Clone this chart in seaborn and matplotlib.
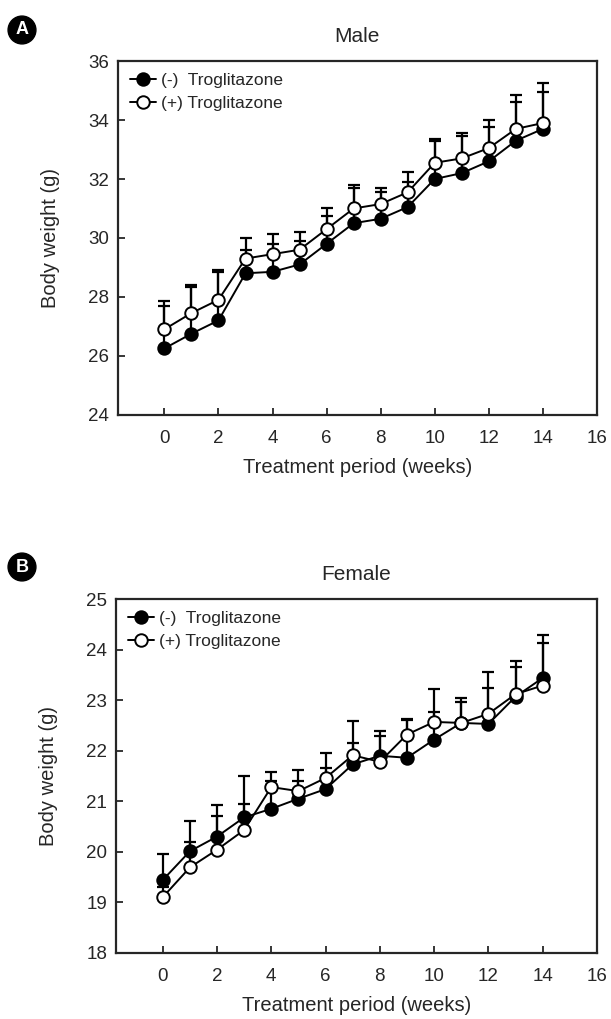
import numpy as np
import pandas as pd
import matplotlib
matplotlib.use("Agg")
import matplotlib.pyplot as plt
import seaborn as sns

weeks = list(range(15))

male_minus = [26.25, 26.75, 27.2, 28.8, 28.85, 29.1, 29.8, 30.5, 30.65, 31.05, 32.0, 32.2, 32.6, 33.3, 33.7]
male_minus_sem = [1.45, 1.6, 1.65, 0.8, 0.95, 0.8, 0.95, 1.2, 0.9, 0.85, 1.3, 1.25, 1.15, 1.3, 1.25]
male_plus = [26.9, 27.45, 27.9, 29.3, 29.45, 29.6, 30.3, 31.0, 31.15, 31.55, 32.55, 32.7, 33.05, 33.7, 33.9]
male_plus_sem = [0.95, 0.95, 1.0, 0.7, 0.7, 0.6, 0.7, 0.8, 0.55, 0.7, 0.8, 0.85, 0.95, 1.15, 1.35]

female_minus = [19.44, 20.01, 20.3, 20.68, 20.85, 21.05, 21.24, 21.73, 21.9, 21.86, 22.22, 22.55, 22.53, 23.07, 23.44]
female_minus_sem = [0.51, 0.59, 0.63, 0.82, 0.55, 0.35, 0.41, 0.85, 0.5, 0.76, 0.55, 0.42, 0.72, 0.58, 0.69]
female_plus = [19.1, 19.69, 20.04, 20.43, 21.28, 21.2, 21.46, 21.91, 21.78, 22.32, 22.57, 22.55, 22.73, 23.12, 23.29]
female_plus_sem = [0.2, 0.51, 0.66, 0.52, 0.3, 0.41, 0.49, 0.24, 0.52, 0.28, 0.66, 0.49, 0.83, 0.66, 1.01]

labels = ["(-)  Troglitazone", "(+) Troglitazone"]
xticks = [0, 2, 4, 6, 8, 10, 12, 14, 16]
male_yticks = [24, 26, 28, 30, 32, 34, 36]
female_yticks = [18, 19, 20, 21, 22, 23, 24, 25]

sns.set_style("ticks")
plt.rcParams['font.family'] = ['Liberation Sans', 'DejaVu Sans']

fig = plt.figure(figsize=(6.11, 10.19), dpi=100)
axA = fig.add_axes([0.193, 0.593, 0.784, 0.347])
axB = fig.add_axes([0.190, 0.065, 0.787, 0.347])


def panel(ax, minus, minus_sem, plus, plus_sem, yticks, title):
    df = pd.DataFrame({
        "week": weeks * 2,
        "weight": minus + plus,
        "sem": minus_sem + plus_sem,
        "group": [labels[0]] * 15 + [labels[1]] * 15,
    })
    for g in labels:
        d = df[df.group == g]
        ax.errorbar(d.week, d.weight, yerr=[np.zeros(len(d)), d["sem"]], fmt='none',
                    ecolor='black', elinewidth=1.6, capsize=4, capthick=1.6, zorder=1)
    for g, fc in zip(labels, ['black', 'white']):
        d = df[df.group == g]
        sns.lineplot(data=d, x="week", y="weight", ax=ax, color='black', lw=1.4,
                     marker='o', markersize=9, markerfacecolor=fc,
                     markeredgecolor='black', markeredgewidth=1.4, label=g,
                     zorder=3, errorbar=None)
    ax.set_xlim(-1.72, 16)
    ax.set_ylim(yticks[0], yticks[-1])
    ax.set_xticks(xticks)
    ax.set_yticks(yticks)
    ax.tick_params(direction='in', length=5, width=1.3, labelsize=13.5)
    ax.tick_params(axis='x', pad=11)
    ax.tick_params(axis='y', pad=6.5)
    for s in ax.spines.values():
        s.set_linewidth(1.6)
    ax.set_xlabel("Treatment period (weeks)", fontsize=14.5, labelpad=8)
    ax.set_ylabel("Body weight (g)", fontsize=14.5, labelpad=20)
    ax.set_title(title, fontsize=15, pad=14)
    ax.legend(loc='upper left', frameon=False, fontsize=12.5, handlelength=1.5,
              handletextpad=0.3, labelspacing=0.45, borderaxespad=0.3,
              bbox_to_anchor=(0.0, 1.0))


panel(axA, male_minus, male_minus_sem, male_plus, male_plus_sem, male_yticks, "Male")
panel(axB, female_minus, female_minus_sem, female_plus, female_plus_sem, female_yticks, "Female")

for letter, y in [("A", 1 - 30 / 1019), ("B", 1 - 567 / 1019)]:
    fig.text(22 / 611, y, letter, color='white', fontsize=13, fontweight='bold',
             ha='center', va='center',
             bbox=dict(boxstyle='circle,pad=0.3', facecolor='black', edgecolor='black'))

fig.savefig("out.png", dpi=100)
